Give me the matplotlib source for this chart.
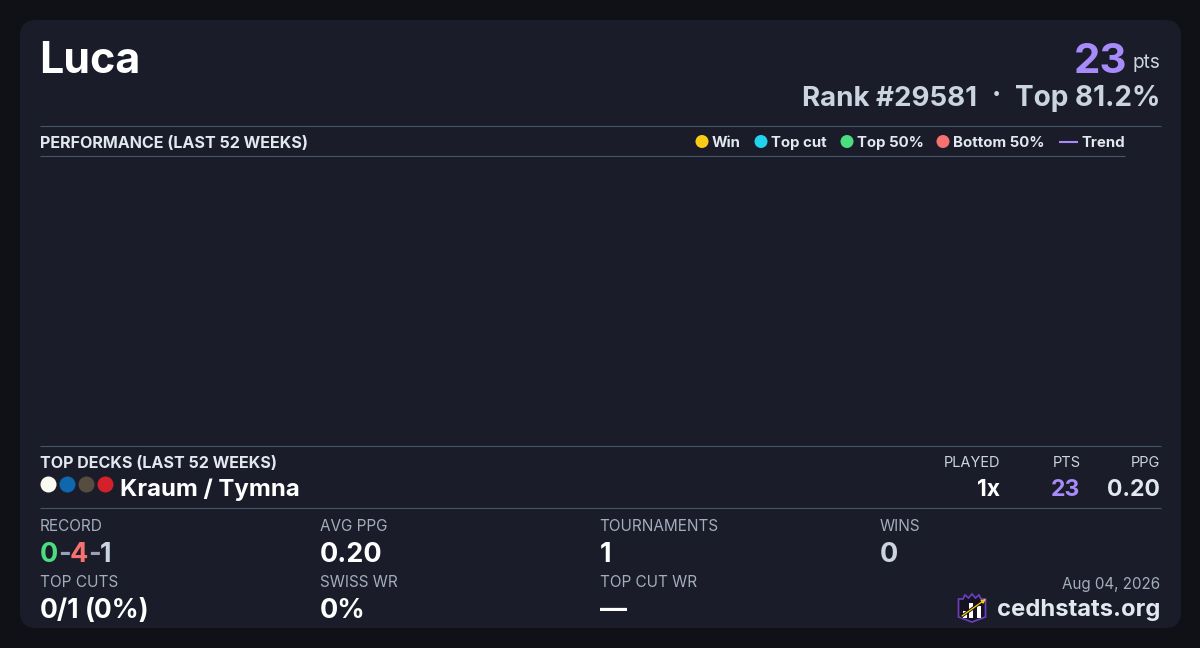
"""Player summary card: header, empty performance panel, top deck and stat rows."""

import matplotlib
matplotlib.use("Agg")
import matplotlib.pyplot as plt
from matplotlib.patches import Circle, FancyBboxPatch, Polygon, Rectangle

plt.rcParams["font.family"] = ["Inter", "DejaVu Sans"]

# Content
player = "Luca"
points = "23"
rank_text = "Rank #29581"
top_text = "Top 81.2%"
legend_labels = ["Win", "Top cut", "Top 50%", "Bottom 50%"]
legend_colors = ["#facc15", "#22d3ee", "#4ade80", "#f87171"]
deck_name = "Kraum / Tymna"
deck_pips = ["#fbfaf2", "#0f68ad", "#574c40", "#d3202a"]
deck_headers = ["PLAYED", "PTS", "PPG"]
deck_values = ["1x", "23", "0.20"]
stat_labels = ["AVG PPG", "TOURNAMENTS", "WINS", "SWISS WR", "TOP CUT WR"]
stat_values = ["0.20", "1", "0", "0%", "—"]
record = ["0", "-", "4", "-", "1"]
record_colors = ["#4ade80", "#94a3b8", "#f87171", "#94a3b8", "#cbd5e1"]
top_cuts = ["0/1", "(0%)"]
date_text = "Aug 04, 2026"
site_text = "cedhstats.org"

# Colours
PAGE = "#0f1117"
CARD = "#1a1d29"
RULE = "#475569"
PURPLE = "#a78bfa"
LIGHT = "#e2e8f0"
MUTED = "#cbd5e1"
GREY = "#a3adbd"
WHITE = "#ffffff"

fig = plt.figure(figsize=(12, 6.48), dpi=100, facecolor=PAGE)
ax = fig.add_axes([0, 0, 1, 1])
ax.set_xlim(0, 1200)
ax.set_ylim(648, 0)
ax.axis("off")


def label(x, y, s, px, color, weight="normal", ha="left"):
    # px is the css-like font size, y is the text baseline
    return ax.text(x, y, s, fontsize=px * 0.72, color=color, fontweight=weight,
                   ha=ha, va="baseline")


# Card
ax.add_patch(FancyBboxPatch((20, 20), 1161, 608, boxstyle="round,pad=0,rounding_size=16",
                            linewidth=0, facecolor=CARD))

# Header
label(39, 73, player, 43, WHITE, "bold")
label(1127, 73, points, 42, PURPLE, "bold", ha="right")
label(1160, 68, "pts", 19, MUTED, ha="right")
label(977.5, 106, rank_text, 27.7, MUTED, "bold", ha="right")
label(996, 104, "·", 28, MUTED, "bold", ha="center")
label(1160.5, 106, top_text, 28, MUTED, "bold", ha="right")

# Rules
for y, x1 in [(126, 1161), (156, 1125), (446, 1161), (508, 1161)]:
    ax.plot([40, x1], [y, y], color=RULE, linewidth=0.8, solid_capstyle="butt")

# Performance heading and legend
label(40, 148, "PERFORMANCE (LAST 52 WEEKS)", 16.1, LIGHT, "bold")
legend_dots = [702, 761, 847, 943]
legend_text = [712, 771, 857, 953]
for dot, tx, name, col in zip(legend_dots, legend_text, legend_labels, legend_colors):
    ax.add_patch(Circle((dot, 141.5), 6.5, facecolor=col, linewidth=0))
    label(tx, 147, name, 15, LIGHT, "bold")
ax.plot([1059, 1078], [141.5, 141.5], color=PURPLE, linewidth=1.5, solid_capstyle="butt")
label(1081, 147, "Trend", 15, LIGHT, "bold")

# Top decks
label(40, 468, "TOP DECKS (LAST 52 WEEKS)", 16.1, LIGHT, "bold")
for cx, col in zip([48.5, 67.5, 86.5, 105.5], deck_pips):
    ax.add_patch(Circle((cx, 484.5), 8, facecolor=col, linewidth=0))
label(120, 496, deck_name, 24, WHITE, "bold")
deck_right = [1000, 1080, 1160]
deck_cols = [WHITE, PURPLE, LIGHT]
for x, head, val, col in zip(deck_right, deck_headers, deck_values, deck_cols):
    label(x + 0.5, 467, head, 14.6, MUTED, ha="right")
    label(x, 496, val, 23, col, "bold", ha="right")

# Stats
label(40, 531, "RECORD", 15.4, GREY)
for x, part, col in zip([40, 58.5, 70, 88.5, 100], record, record_colors):
    label(x, 562, part, 27, col, "bold")

stat_x = [320, 600, 880, 320, 600]
stat_label_y = [531, 531, 531, 587, 587]
stat_value_y = [562, 562, 562, 618, 618]
stat_cols = [WHITE, WHITE, MUTED, WHITE, WHITE]
for x, ly, vy, name, val, col in zip(stat_x, stat_label_y, stat_value_y,
                                     stat_labels, stat_values, stat_cols):
    label(x - 0.5, ly, name, 15.3, GREY)
    label(x, vy, val, 27, col, "bold")

label(40, 587, "TOP CUTS", 15.4, GREY)
label(40, 618, top_cuts[0], 26.5, WHITE, "bold")
label(85, 618, top_cuts[1], 26.5, WHITE, "bold")

# Footer
label(1160.5, 589, date_text, 15.2, GREY, ha="right")
label(1160, 616, site_text, 23.8, LIGHT, "bold", ha="right")

# Logo: shield with crown, three bars and an arrow
ax.add_patch(Polygon([(958.5, 599), (963, 599), (965, 595), (968.5, 598), (972, 594), (975.5, 598),
                      (979, 595), (981, 599), (985.5, 599), (985.5, 617), (972, 622), (958.5, 617)],
                     closed=True, facecolor="#15131f", edgecolor="#6d3fc4", linewidth=1.2))
for bx, top in zip([963, 969, 977], [611, 603, 606]):
    ax.add_patch(Rectangle((bx, top), 4, 618 - top, facecolor=WHITE, linewidth=0))
ax.plot([962, 983], [616, 601], color="#111111", linewidth=2.2)
ax.annotate("", xy=(986, 599), xytext=(962, 616),
            arrowprops=dict(arrowstyle="-|>", color="#facc15", lw=0.9, mutation_scale=6,
                            shrinkA=0, shrinkB=0))

fig.savefig("out.png", dpi=100, facecolor=PAGE)
plt.close(fig)
